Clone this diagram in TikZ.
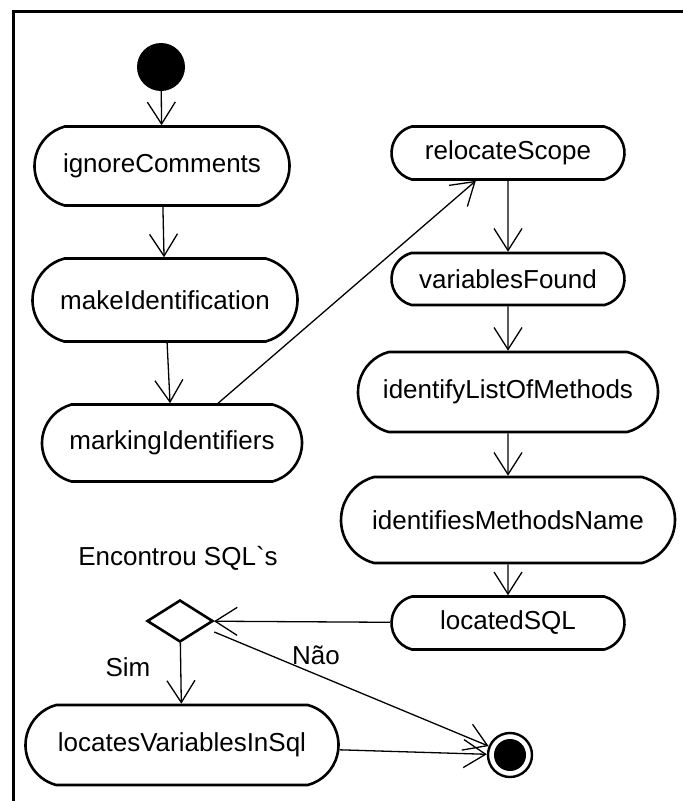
\documentclass[tikz,border=0pt]{standalone}
\usepackage{fontspec}
\setmainfont{Liberation Sans}
\usetikzlibrary{arrows.meta,shapes.geometric,shapes.misc}
\newcommand{\activity}[5]{%
  \node[actbox,minimum width=#4pt,minimum height=#5pt] (#1) at (#2) {#3};
}
\begin{document}
\begin{tikzpicture}[x=1pt,y=-1pt,font=\fontsize{26}{30}\selectfont,
    actbox/.style={draw,line width=2.6pt,rounded rectangle,rounded rectangle arc length=150,inner sep=0pt,fill=white},
    flow/.style={-{Straight Barb[length=22pt,width=28pt]},line width=1.3pt}]
        \useasboundingbox (0,0) rectangle (683,801);
        \draw[line width=3pt] (13.5,801) -- (13.5,11.5) -- (683,11.5);
        % left column
        \node[circle,fill,minimum size=48pt,inner sep=0pt] (ini) at (161,67) {};
        \activity{ign}{162,166}{ignoreComments}{255}{79}
        \activity{make}{165,300}{makeIdentification}{265}{83}
        \activity{mark}{172,443}{markingIdentifiers}{260}{77}
        % right column
        \activity{reloc}{508,153}{relocateScope}{233}{53}
        \activity{vars}{508,279}{variablesFound}{233}{52}
        \activity{list}{508,392}{identifyListOfMethods}{300}{80}
        \activity{name}{508,520}{identifiesMethodsName}{334}{86}
        \activity{sql}{508,623}{locatedSQL}{233}{53}
        % decision and end
        \node[draw,diamond,line width=2.6pt,aspect=1.57,minimum width=66pt,minimum height=42pt,inner sep=0pt] (dec) at (180,621) {};
        \node (found) at (178,558) {Encontrou SQL\textasciigrave s};
        \activity{locs}{182,745}{locatesVariablesInSql}{313}{80}
        \node[circle,draw,line width=2.4pt,minimum size=44pt,inner sep=0pt,
          path picture={\fill (path picture bounding box.center) circle (16pt);}] (fim) at (510,755) {};
        \node (sim) at (128,667) {Sim};
        \node (nao) at (316,655) {Não};
        % transitions
        \draw[flow] (ini) -- (ign);
        \draw[flow] (ign) -- (make);
        \draw[flow] (make) -- (mark);
        \draw[flow] (mark) -- (reloc);
        \draw[flow] (reloc) -- (vars);
        \draw[flow] (vars) -- (list);
        \draw[flow] (list) -- (name);
        \draw[flow] (name) -- (sql);
        \draw[flow] (sql) -- (dec);
        \draw[flow] (dec) -- (locs);
        \draw[flow] ([yshift=-11pt]dec.east) -- (fim);
        \draw[flow] (locs) -- (fim);
      \end{tikzpicture}
\end{document}
